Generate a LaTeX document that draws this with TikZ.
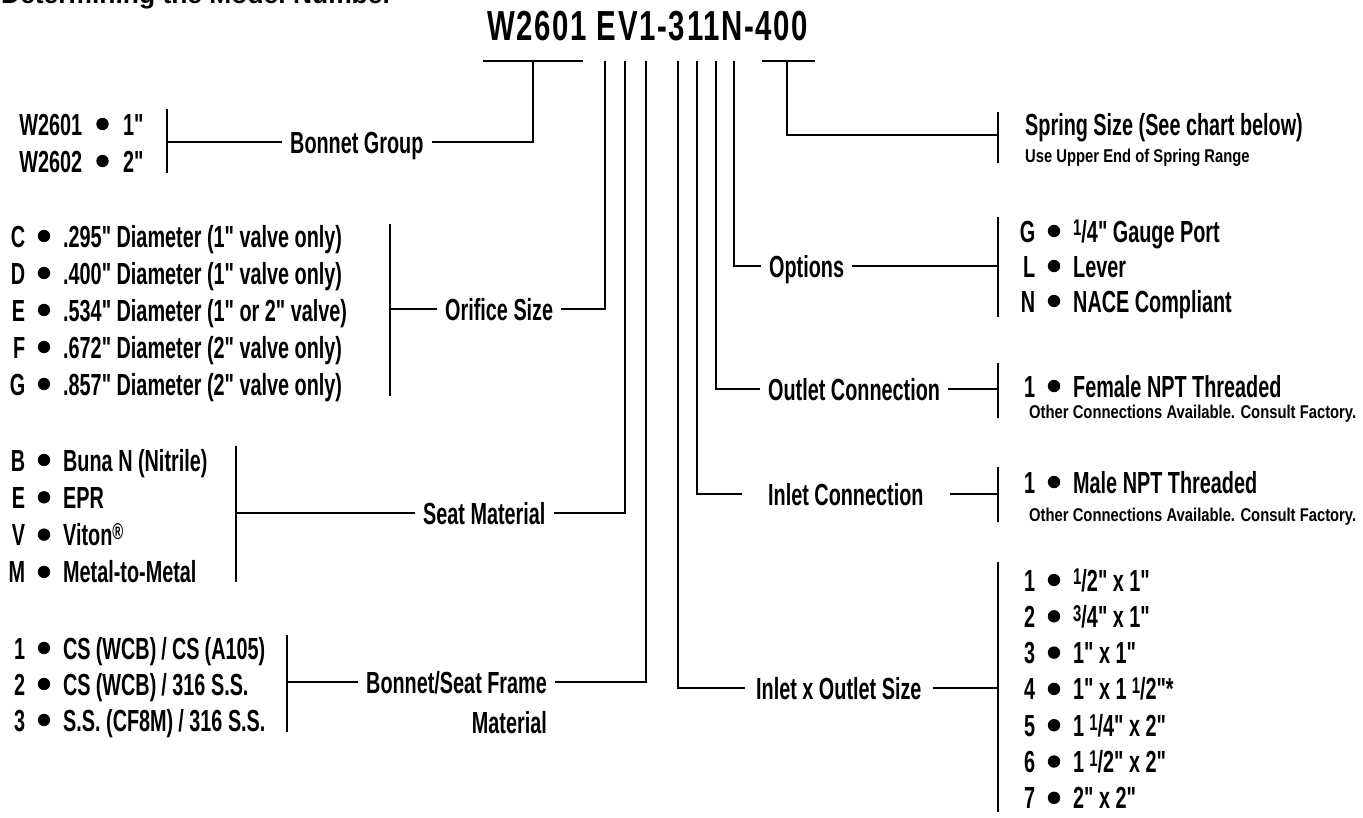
\documentclass[tikz,border=0pt]{standalone}
\usepackage{graphicx}
\usepackage{fontspec}
\newfontfamily\labelfont{Liberation Sans}[FakeStretch=0.65]
\newfontfamily\modelfont{Liberation Sans}[FakeStretch=0.7, LetterSpace=4]
\newfontfamily\notefont{Liberation Sans}[FakeStretch=0.8]
\newfontfamily\titlefont{Liberation Sans}
\newcommand\supnum[1]{\raisebox{0.2em}{\scalebox{0.75}{#1}}}
\newcommand\keyed[3][38pt]{\llap{#2}\hspace{#1}#3}
\tikzset{
  conn/.style={line width=1.7pt},
  dotmark/.style={radius=6.2pt},
  lbl/.style={font=\labelfont\bfseries\fontsize{30.5}{32}\selectfont, inner ysep=0pt,
    inner xsep=8pt, text height=22pt, text depth=0pt, anchor=west},
  item/.style={font=\labelfont\bfseries\fontsize{30.5}{32}\selectfont, inner sep=0pt,
    text height=22pt, text depth=0pt, anchor=west},
  note/.style={font=\notefont\bfseries\fontsize{18.5}{20}\selectfont,
    inner sep=0pt, anchor=base west},
}
\begin{document}
\begin{tikzpicture}[x=1pt,y=-1pt]
  \clip (0,0) rectangle (1363,817);
  \node[font=\titlefont\bfseries\fontsize{26.4}{28}\selectfont, inner sep=0pt,
    anchor=base west] (title) at (1,3) {Determining the Model Number};
  \node[font=\modelfont\bfseries\fontsize{42}{44}\selectfont, inner sep=0pt,
    anchor=base west] (model) at (487,40) {W2601 EV1-311N-400};

  \coordinate (brA) at (483,61); \coordinate (brB) at (583,61);
  \coordinate (brC) at (762,61); \coordinate (brD) at (815,61);
  \draw[conn] (brA) -- (brB);
  \draw[conn] (brC) -- (brD);
  \foreach \n/\x in {bon/533, orf/605, seat/625, frm/646, size/678,
      inl/697, outl/716, opt/734, spr/787}
    \coordinate (\n-top) at (\x,61);

  \node[lbl] (bonnet) at (282,142) {Bonnet Group};
  \node[lbl] (orifice) at (437,309) {Orifice Size};
  \node[lbl] (seat) at (415,513) {Seat Material};
  \node[lbl] (frame) at (358,682) {Bonnet/Seat Frame};
  \node[lbl, anchor=east] (framemat) at ([yshift=-40pt]frame.east) {Material};
  \node[lbl] (options) at (761,266) {Options};
  \node[lbl] (outlet) at (760,389) {Outlet Connection};
  \node[lbl, inner xsep=26pt] (inlet) at (742,494) {Inlet Connection};
  \node[lbl, inner xsep=11pt] (iosize) at (745,688) {Inlet x Outlet Size};

  \foreach \n/\x/\a/\b in {bon/167/109/173, orf/390/224/396, seat/236/446/582,
      frm/287/635/732, spr/998/112/163, opt/998/217/317, outl/998/363/418,
      inl/998/467/522, size/998/562/812} {
    \coordinate (\n-bt) at (\x,\a);
    \coordinate (\n-bb) at (\x,\b);
    \draw[conn] (\n-bt) -- (\n-bb);
  }
  \coordinate (spr-mid) at (998,135);

  \draw[conn] (bon-top) |- (bonnet.east);
  \draw[conn] (bonnet.west) -- (bonnet.west -| bon-bt);
  \draw[conn] (orf-top) |- (orifice.east);
  \draw[conn] (orifice.west) -- (orifice.west -| orf-bt);
  \draw[conn] (seat-top) |- (seat.east);
  \draw[conn] (seat.west) -- (seat.west -| seat-bt);
  \draw[conn] (frm-top) |- (frame.east);
  \draw[conn] (frame.west) -- (frame.west -| frm-bt);
  \draw[conn] (spr-top) |- (spr-mid);
  \draw[conn] (opt-top) |- (options.west);
  \draw[conn] (options.east) -- (options.east -| opt-bt);
  \draw[conn] (outl-top) |- (outlet.west);
  \draw[conn] (outlet.east) -- (outlet.east -| outl-bt);
  \draw[conn] (inl-top) |- (inlet.west);
  \draw[conn] (inlet.east) -- (inlet.east -| inl-bt);
  \draw[conn] (size-top) |- (iosize.west);
  \draw[conn] (iosize.east) -- (iosize.east -| size-bt);

  \foreach \k/\t [count=\i from 0] in {W2601/1", W2602/2"} {
    \node[item] (bonopt-\i) at (82,124+37*\i) {\keyed[41pt]{\k}{\t}};
    \fill[dotmark] ([xshift=20.5pt]bonopt-\i.west) circle;
  }
  \foreach \k/\t [count=\i from 0] in {C/{.295" Diameter (1" valve only)},
      D/{.400" Diameter (1" valve only)}, E/{.534" Diameter (1" or 2" valve)},
      F/{.672" Diameter (2" valve only)}, G/{.857" Diameter (2" valve only)}} {
    \node[item] (orfopt-\i) at (25,236+37*\i) {\keyed{\k}{\t}};
    \fill[dotmark] ([xshift=19pt]orfopt-\i.west) circle;
  }
  \foreach \k/\t [count=\i from 0] in {B/{Buna N (Nitrile)}, E/EPR,
      V/{Viton\supnum{®}}, M/Metal-to-Metal} {
    \node[item] (seatopt-\i) at (25,460+37.3*\i) {\keyed{\k}{\t}};
    \fill[dotmark] ([xshift=19pt]seatopt-\i.west) circle;
  }
  \foreach \k/\t [count=\i from 0] in {1/{CS\,(WCB)\,/\,CS\,(A105)},
      2/{CS\,(WCB)\,/ 316 S.S.}, 3/{S.S. (CF8M)\,/ 316 S.S.}} {
    \node[item] (frmopt-\i) at (25,648+36*\i) {\keyed{\k}{\t}};
    \fill[dotmark] ([xshift=19pt]frmopt-\i.west) circle;
  }

  \node[item] (spring) at (1025,124) {Spring Size (See chart below)};
  \node[note] (springnote) at (1025,162) {Use Upper End of Spring Range};
  \foreach \k/\t [count=\i from 0] in {G/{\supnum{1}/4" Gauge Port}, L/Lever,
      N/NACE Compliant} {
    \node[item] (optopt-\i) at (1035,231+35*\i) {\keyed{\k}{\t}};
    \fill[dotmark] ([xshift=19pt]optopt-\i.west) circle;
  }
  \node[item] (outlopt) at (1035,386) {\keyed{1}{Female NPT Threaded}};
  \fill[dotmark] ([xshift=19pt]outlopt.west) circle;
  \node[note] (outlnote) at (1029,418) {Other Connections Available. Consult Factory.};
  \node[item] (inlopt) at (1035,482) {\keyed{1}{Male NPT Threaded}};
  \fill[dotmark] ([xshift=19pt]inlopt.west) circle;
  \node[note] (inlnote) at (1029,521) {Other Connections Available. Consult Factory.};
  \foreach \k/\t [count=\i from 0] in {1/{\supnum{1}/2" x 1"},
      2/{\supnum{3}/4" x 1"}, 3/{1" x 1"}, 4/{1" x 1\,\supnum{1}/2"*},
      5/{1\,\supnum{1}/4" x 2"}, 6/{1\,\supnum{1}/2" x 2"}, 7/{2" x 2"}} {
    \node[item] (sizeopt-\i) at (1035,580+36.3*\i) {\keyed{\k}{\t}};
    \fill[dotmark] ([xshift=19pt]sizeopt-\i.west) circle;
  }
\end{tikzpicture}
\end{document}
